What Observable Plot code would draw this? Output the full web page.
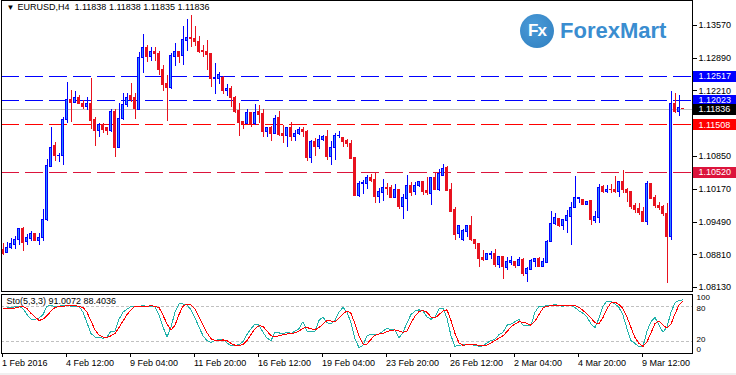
<!DOCTYPE html>
<html><head><meta charset="utf-8">
<script src="https://cdn.jsdelivr.net/npm/d3@7"></script>
<script src="https://cdn.jsdelivr.net/npm/@observablehq/plot@0.6"></script>
<style>
body{margin:0;background:#fff;}
#wrap{position:relative;width:736px;height:375px;overflow:hidden;background:#fff;font-family:"Liberation Sans",Arial,sans-serif;}
#main,#sto{position:absolute;left:0;}
#main{top:0}
#sto{top:292px}
#wrap svg{shape-rendering:crispEdges;}
#wrap svg text{shape-rendering:auto;}
#strip{position:absolute;left:0;top:373px;width:736px;height:2px;background:#f0f0f0;}
#logo{position:absolute;left:520px;top:14px;height:35px;}
#logo .circ{position:absolute;left:0;top:0;width:34px;height:34px;border-radius:50%;background:radial-gradient(circle at 40% 35%,#4a9ad8,#2f7fbf);color:#fff;font:bold 17px "Liberation Sans",Arial,sans-serif;line-height:34px;text-align:center;letter-spacing:-1px;}
#logo .word{position:absolute;left:40px;top:4px;color:#3a8dd0;font:bold 22px "Liberation Sans",Arial,sans-serif;white-space:nowrap;}
</style></head>
<body><div id="wrap"><div id="main"></div><div id="sto"></div><div id="strip"></div>
<div id="logo"><div class="circ">Fx</div><div class="word">ForexMart</div></div></div>
<script>
// ---- data (EURUSD H4, bars 0..170) ----
const open=[1.08913,1.08844,1.08941,1.09010,1.09121,1.09349,1.09066,1.09135,1.09246,1.09093,1.09163,1.09522,1.10630,1.11059,1.10851,1.10851,1.11612,1.12027,1.11958,1.12069,1.11944,1.11875,1.11944,1.11598,1.11377,1.11495,1.11432,1.11377,1.11771,1.11031,1.11633,1.11910,1.12097,1.12069,1.11820,1.12899,1.13107,1.12913,1.13010,1.12982,1.12650,1.12346,1.12263,1.12913,1.13010,1.12927,1.13245,1.13315,1.13294,1.13232,1.13038,1.13010,1.12968,1.12456,1.12463,1.12477,1.12207,1.12242,1.12069,1.11785,1.11557,1.11529,1.11751,1.11529,1.11764,1.11723,1.11363,1.11432,1.11322,1.11640,1.11308,1.11280,1.11446,1.11252,1.11308,1.11405,1.11363,1.10823,1.11142,1.11045,1.11197,1.11245,1.10837,1.11017,1.11266,1.11225,1.11169,1.11114,1.10809,1.10021,1.10270,1.10284,1.10408,1.10353,1.10007,1.10090,1.10201,1.10187,1.09979,1.10145,1.09799,1.09965,1.10228,1.10104,1.10242,1.10325,1.10131,1.10076,1.10394,1.10145,1.10450,1.10602,1.10145,1.09730,1.09232,1.09107,1.09287,1.09412,1.09121,1.09038,1.08734,1.08706,1.08803,1.08830,1.08595,1.08761,1.08540,1.08637,1.08665,1.08581,1.08692,1.08415,1.08498,1.08665,1.08720,1.08554,1.08637,1.09066,1.09440,1.09550,1.09412,1.09509,1.09592,1.09785,1.09965,1.09951,1.09841,1.09923,1.09509,1.09578,1.10214,1.10104,1.10159,1.10159,1.10104,1.10311,1.10159,1.10104,1.09827,1.09758,1.09688,1.09481,1.10270,1.09993,1.09827,1.09799,1.09661,1.09176,1.11931,1.11764,1.11838];
const high=[1.09038,1.09059,1.09156,1.09190,1.09349,1.09370,1.09232,1.09287,1.09259,1.09246,1.09744,1.10782,1.11446,1.11149,1.10920,1.11668,1.12387,1.12221,1.12207,1.12117,1.12014,1.12069,1.12463,1.11654,1.11543,1.11529,1.11460,1.11834,1.11834,1.11958,1.12152,1.12152,1.12373,1.12152,1.13017,1.13384,1.13155,1.13121,1.13107,1.13024,1.12740,1.12533,1.12982,1.13204,1.13038,1.13550,1.13688,1.13771,1.13550,1.13342,1.13149,1.13259,1.12982,1.12775,1.12595,1.12512,1.12346,1.12304,1.12097,1.11958,1.11585,1.11820,1.11771,1.11931,1.11903,1.11820,1.11460,1.11474,1.11695,1.11792,1.11502,1.11460,1.11557,1.11391,1.11460,1.11460,1.11391,1.11183,1.11225,1.11287,1.11287,1.11391,1.11155,1.11322,1.11363,1.11252,1.11197,1.11183,1.10809,1.10325,1.10353,1.10464,1.10477,1.10491,1.10187,1.10367,1.10284,1.10242,1.10270,1.10159,1.10062,1.10464,1.10311,1.10311,1.10339,1.10339,1.10422,1.10422,1.10505,1.10588,1.10685,1.10643,1.10284,1.09799,1.09412,1.09342,1.09426,1.09605,1.09135,1.09052,1.08900,1.08830,1.08886,1.08913,1.08775,1.08775,1.08761,1.08775,1.08678,1.08747,1.08734,1.08554,1.08720,1.08734,1.08747,1.08734,1.09107,1.09702,1.09661,1.09564,1.09550,1.09730,1.09896,1.10436,1.09993,1.09965,1.09910,1.09937,1.09702,1.10270,1.10242,1.10242,1.10270,1.10436,1.10339,1.10561,1.10187,1.10118,1.09882,1.09868,1.09799,1.10325,1.10297,1.10034,1.09896,1.09827,1.09882,1.12194,1.12166,1.12110,1.11838];
const low=[1.08796,1.08830,1.08913,1.08913,1.09003,1.08886,1.08996,1.09080,1.09080,1.09010,1.09080,1.09509,1.10630,1.10754,1.10733,1.10664,1.11529,1.11564,1.11944,1.11931,1.11834,1.11806,1.11405,1.11059,1.11252,1.11335,1.11280,1.11349,1.10837,1.11031,1.11598,1.11875,1.11979,1.11612,1.11820,1.12567,1.12809,1.12830,1.12830,1.12533,1.12207,1.11585,1.12249,1.12719,1.12789,1.12740,1.13038,1.13121,1.13135,1.12996,1.12913,1.12636,1.12277,1.12138,1.12346,1.12138,1.12097,1.11875,1.11751,1.11266,1.11419,1.11529,1.11460,1.11495,1.11529,1.11239,1.11239,1.11169,1.11308,1.11266,1.11128,1.11045,1.11169,1.11169,1.11280,1.11239,1.10754,1.10698,1.10851,1.10989,1.11155,1.10768,1.10657,1.10768,1.11225,1.11031,1.11031,1.10796,1.10021,1.10007,1.10062,1.10173,1.10311,1.09882,1.09882,1.09923,1.10034,1.09979,1.09979,1.09744,1.09550,1.09716,1.10021,1.10041,1.10214,1.10034,1.10034,1.09841,1.10145,1.10131,1.10436,1.10118,1.09688,1.09107,1.09149,1.09093,1.09176,1.09080,1.08927,1.08554,1.08665,1.08692,1.08720,1.08540,1.08526,1.08304,1.08484,1.08595,1.08526,1.08568,1.08360,1.08235,1.08484,1.08554,1.08540,1.08540,1.08637,1.09066,1.09426,1.09384,1.09315,1.09259,1.09010,1.09771,1.09868,1.09827,1.09841,1.09412,1.09453,1.09453,1.10076,1.10090,1.10090,1.10090,1.09993,1.10090,1.09896,1.09744,1.09661,1.09619,1.09481,1.09426,1.09951,1.09771,1.09730,1.09605,1.08208,1.09107,1.11737,1.11681,1.11835];
const close=[1.08830,1.08955,1.09024,1.09121,1.09349,1.09052,1.09163,1.09246,1.09093,1.09163,1.09536,1.10643,1.11031,1.10851,1.10865,1.11612,1.12027,1.11958,1.12069,1.11944,1.11875,1.11944,1.11585,1.11377,1.11495,1.11405,1.11377,1.11771,1.11031,1.11633,1.11910,1.12055,1.12014,1.11834,1.12899,1.13107,1.12913,1.13010,1.12968,1.12636,1.12325,1.12263,1.12927,1.13010,1.12913,1.13259,1.13315,1.13287,1.13218,1.13017,1.13010,1.12955,1.12463,1.12470,1.12546,1.12207,1.12242,1.12069,1.11771,1.11543,1.11529,1.11751,1.11515,1.11751,1.11709,1.11363,1.11432,1.11322,1.11633,1.11294,1.11280,1.11446,1.11252,1.11322,1.11405,1.11349,1.10823,1.11142,1.11045,1.11197,1.11252,1.10837,1.11017,1.11280,1.11280,1.11155,1.11114,1.10796,1.10021,1.10270,1.10297,1.10408,1.10339,1.10007,1.10104,1.10201,1.10173,1.09979,1.10145,1.09799,1.09979,1.10228,1.10090,1.10242,1.10325,1.10104,1.10090,1.10394,1.10145,1.10491,1.10588,1.10131,1.09702,1.09218,1.09398,1.09301,1.09412,1.09107,1.09024,1.08720,1.08706,1.08817,1.08830,1.08595,1.08761,1.08554,1.08651,1.08678,1.08581,1.08692,1.08415,1.08512,1.08678,1.08720,1.08554,1.08651,1.09080,1.09440,1.09564,1.09398,1.09522,1.09605,1.09785,1.09979,1.09993,1.09841,1.09910,1.09536,1.09592,1.10201,1.10104,1.10159,1.10145,1.10104,1.10311,1.10145,1.10090,1.09799,1.09744,1.09675,1.09481,1.10270,1.09965,1.09827,1.09785,1.09647,1.09176,1.11931,1.11764,1.11848,1.11836];
// Stochastic(5,3,3): %K main line and %D signal line
const stoK=[76,77,78,79,80,76,66,58,58,60,66,80,82,79,80,82,82,80,80,80,70,52,34,28,27,26,28,38,38,58,70,75,80,80,80,81,80,80,79,65,45,28,45,70,84,84,82,74,60,45,30,22,19,22,24,24,18,13,14,15,20,32,42,50,48,36,26,22,36,35,33,36,34,38,42,54,38,38,38,56,62,52,50,56,70,78,70,52,25,10,14,30,33,33,33,38,43,40,40,26,36,52,66,72,74,72,62,58,62,76,77,60,30,12,14,15,16,15,14,12,13,18,22,24,32,36,48,50,54,58,48,47,48,70,80,80,81,81,83,81,80,82,82,78,72,68,62,50,44,60,80,89,88,84,78,65,42,22,17,11,12,38,54,61,48,36,45,70,86,90,91.0072];
const stoD=[76,76,77,77,79,80,76,68,62,56,58,64,72,78,80,80,81,82,81,80,78,70,55,40,31,28,27,30,34,44,55,66,74,80,80,80,80,81,80,78,65,50,40,48,66,80,84,82,76,62,48,35,25,22,22,23,22,17,14,14,15,22,32,42,47,46,38,30,28,30,32,33,34,35,38,43,44,42,40,44,50,56,55,54,60,67,72,68,50,30,16,16,24,31,33,34,37,39,40,38,36,38,52,63,71,73,70,62,60,66,72,74,56,34,18,14,15,16,15,14,13,14,18,22,26,30,37,45,50,54,53,51,48,55,66,77,80,81,81,82,81,81,81,81,78,73,67,60,52,51,61,76,86,87,83,76,62,44,27,17,12,20,35,51,55,48,43,50,67,82,88.4036];
const tickIndex=[0,16,32,48,64,80,96,112,128,144,160];
const tickLabels=["1 Feb 2016","4 Feb 12:00","9 Feb 04:00","11 Feb 20:00","16 Feb 12:00","19 Feb 04:00","23 Feb 20:00","26 Feb 12:00","2 Mar 04:00","4 Mar 20:00","9 Mar 12:00"];
const priceTicks=[1.13570,1.12890,1.12210,1.11530,1.10850,1.10170,1.09490,1.08810,1.08130];
const levelValues=[1.12517,1.12023,1.11508,1.10520];
const levelColors=["#0000ff","#0000ff","#ff0000","#dc143c"];
const bidValue=1.11836;
const title="EURUSD,H4  1.11838 1.11838 1.11835 1.11836";
const stoLabel="Sto(5,3,3) 91.0072 88.4036";
const stoLevels=[80,20];
const stoScaleLabels=[100,80,20,0];

// ---- build ----
const FONT='"Liberation Sans",Arial,sans-serif';
const bars=d3.range(open.length).map(i=>({i,o:open[i],h:high[i],l:low[i],c:close[i],up:close[i]>open[i]}));
const levels=levelValues.map((v,k)=>({v,col:levelColors[k]}));
const boxes=[...levels,{v:bidValue,col:"#000000"}];
const xDomain=[-0.375,172.375];
const xEnd=xDomain[1];
const BULL="#0000ff",BULLFILL="#2f86ff",BEAR="#e8121f";

const main=Plot.plot({
  width:736,height:292,marginLeft:1,marginRight:44,marginTop:0,marginBottom:1,
  style:{fontFamily:FONT,fontSize:"9px",background:"transparent",color:"#000",overflow:"visible"},
  x:{domain:xDomain,axis:null},
  y:{domain:[1.08047,1.14089],axis:null},
  marks:[
    Plot.axisY(priceTicks,{anchor:"right",label:null,tickSize:4,tickPadding:2,tickFormat:d=>d.toFixed(5),fontSize:9,stroke:"#000"}),
    Plot.ruleY(levels,{y:"v",stroke:"col",strokeDasharray:"18,6",x1:xDomain[0],x2:xEnd}),
    Plot.ruleY([bidValue],{stroke:"#c0c0c0",x1:xDomain[0],x2:xEnd}),
    Plot.ruleX(bars,{x:"i",y1:"l",y2:"h",stroke:d=>d.up?BULL:BEAR}),
    Plot.rect(bars,{x1:d=>d.i-0.25,x2:d=>d.i+0.25,y1:"o",y2:"c",fill:d=>d.up?BULLFILL:BEAR,stroke:d=>d.up?BULL:BEAR,strokeWidth:1}),
    Plot.frame({stroke:"#000"}),
    Plot.ruleY(boxes,{y:"v",x1:xEnd+0.25,x2:xEnd+11.5,stroke:"col",strokeWidth:11}),
    Plot.text(boxes,{y:"v",x:()=>xEnd,dx:6,text:d=>d.v.toFixed(5),fill:"#fff",textAnchor:"start",fontSize:9}),
    Plot.text(["▼"],{frameAnchor:"top-left",dx:5,dy:4,fontSize:8,fill:"#000"}),
    Plot.text([title],{frameAnchor:"top-left",dx:16,dy:3,fontSize:9,fill:"#000"})
  ]
});
document.getElementById("main").append(main);

const labelMap=new Map(tickIndex.map((t,k)=>[t,tickLabels[k]]));
const stoRows=stoK.map((k,i)=>({i,k,d:stoD[i]}));
const sLab=v=>({x:()=>xEnd,y:d=>d,dx:4,text:d=>String(d),textAnchor:"start",fontSize:8});
const sto=Plot.plot({
  width:736,height:83,marginLeft:1,marginRight:44,marginTop:2,marginBottom:22,
  style:{fontFamily:FONT,fontSize:"9px",background:"transparent",color:"#000",overflow:"visible"},
  x:{domain:xDomain,axis:null},
  y:{domain:[0,100],axis:null},
  marks:[
    Plot.ruleY(stoLevels,{stroke:"#c0c0c0",strokeDasharray:"3,2"}),
    Plot.line(stoRows,{x:"i",y:"k",stroke:"#20b2aa",strokeWidth:1}),
    Plot.line(stoRows,{x:"i",y:"d",stroke:"#ff0000",strokeWidth:1}),
    Plot.frame({stroke:"#000"}),
    Plot.axisX(tickIndex,{anchor:"bottom",label:null,tickSize:4,tickPadding:2,tickFormat:d=>labelMap.get(d),textAnchor:"start",dx:-1,fontSize:9,stroke:"#000"}),
    Plot.text([stoScaleLabels[0]],{...sLab(),dy:3}),
    Plot.text([stoScaleLabels[1]],{...sLab(),dy:2}),
    Plot.text([stoScaleLabels[2]],{...sLab(),dy:-2}),
    Plot.text([stoScaleLabels[3]],{...sLab(),dy:-4}),
    Plot.text([stoLabel],{frameAnchor:"top-left",dx:5,dy:3,fontSize:9,fill:"#000"})
  ]
});
document.getElementById("sto").append(sto);
</script></body></html>
